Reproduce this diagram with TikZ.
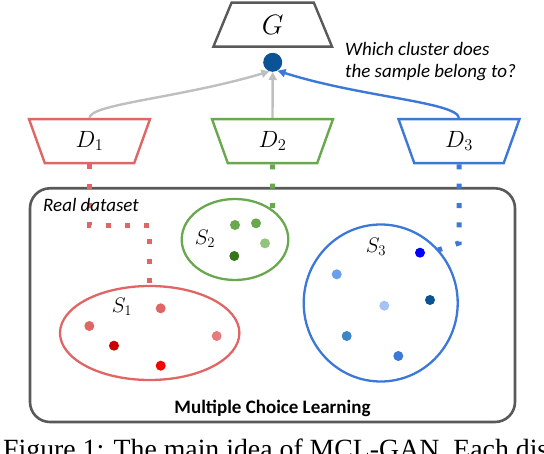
\RequirePackage{fix-cm}
\documentclass[tikz,border=0pt]{standalone}
\usepackage{fontspec}
\newfontfamily\calibri{Carlito}
\newfontfamily\timesf{Liberation Serif}
\usetikzlibrary{shapes.geometric,arrows.meta}
\definecolor{cred}{HTML}{E06666}
\definecolor{cgreen}{HTML}{6AA84F}
\definecolor{cblue}{HTML}{3C78D8}
\definecolor{cgray}{HTML}{BFBFBF}
\definecolor{cdark}{HTML}{595959}
\definecolor{cdot}{HTML}{0B5394}
\begin{document}
\begin{tikzpicture}[x=1pt,y=-1pt,
  gtrap/.style={trapezium, trapezium stretches=true, trapezium left angle=76, trapezium right angle=76,
    minimum width=119pt, minimum height=44pt, inner sep=0pt, draw=cdark, line width=2.4pt},
  dtrap/.style={trapezium, trapezium stretches=true, trapezium left angle=104, trapezium right angle=104,
    minimum width=121pt, minimum height=44pt, inner sep=0pt, line width=2.4pt},
  dotsq/.style={line width=5pt, dash pattern=on 5pt off 14.3pt},
  conn/.style={line width=2.4pt, -{Triangle[length=8pt,width=8pt]}},
  clus/.style={ellipse, inner sep=0pt, line width=2.3pt},
  pt/.style={circle, inner sep=0pt, minimum size=10pt},
  lab/.style={inner sep=0pt, font=\fontsize{21}{21}\selectfont},
  sans/.style={inner sep=0pt, font=\calibri\fontsize{19}{22}\selectfont}
]
\useasboundingbox (0,0) rectangle (544,454);
\clip (0,0) rectangle (544,454);

% generator and discriminators
\node[gtrap] (G) at (272.7,24.7) {\fontsize{28}{28}\selectfont$G$};
\node[circle, fill=cdot, inner sep=0pt, minimum size=19pt] (dot) at (272.7,62.3) {};
\node[dtrap, draw=cred] (D1) at (89.5,141.2) {\fontsize{23.5}{23.5}\selectfont$D_1$};
\node[dtrap, draw=cgreen] (D2) at (272.5,141.2) {\fontsize{23.5}{23.5}\selectfont$D_2$};
\node[dtrap, draw=cblue] (D3) at (459,141.2) {\fontsize{23.5}{23.5}\selectfont$D_3$};

% question text
\node[sans, anchor=base west] (q1) at (345,56) {\itshape Which cluster does};
\node[sans, anchor=base west] (q2) at (345,78) {\itshape the sample belong to?};

% dataset box
\draw[cdark, line width=2.6pt, rounded corners=20pt] (30,188.3) rectangle (515,422);

% clusters
\node[clus, draw=cred, minimum width=179.4pt, minimum height=94pt] (S1e) at (149.7,333) {};
\node[clus, draw=cgreen, minimum width=106.6pt, minimum height=81pt] (S2e) at (235,239.5) {};
\node[clus, draw=cblue, minimum width=154pt, minimum height=157pt] (S3e) at (380.7,303) {};

% dotted links
\coordinate (g2) at (272.5,210);
\coordinate (b3a) at (459,243);
\coordinate (b3) at (438,250);
\draw[dotsq, cred] (D1.south) -- ++(0,61) -| (S1e.north);
\draw[dotsq, cgreen] (D2.south) -- (g2);
\draw[dotsq, cblue] (D3.south) -- (b3a) -- (b3);

\node[sans, anchor=base west] (rd) at (43,211.5) {\itshape Real dataset};
\node[sans, anchor=base, font=\calibri\bfseries\fontsize{19}{22}\selectfont] (mcl) at (272.5,414) {Multiple Choice Learning};

% cluster labels
\node[lab] (S1l) at (122,307) {$S_1$};
\node[lab] (S2l) at (205,239) {$S_2$};
\node[lab] (S3l) at (376,247) {$S_3$};

% samples
\node[pt, fill=cred] (r1) at (89.3,326) {};
\node[pt, fill=cred] (r2) at (160.7,308.3) {};
\node[pt, fill={rgb,255:red,204;green,0;blue,0}] (r3) at (114,345.7) {};
\node[pt, fill={rgb,255:red,255;green,0;blue,0}] (r4) at (160.7,365.7) {};
\node[pt, fill={rgb,255:red,230;green,125;blue,125}] (r5) at (216.7,336) {};

\node[pt, fill=cgreen] (g1) at (235,225) {};
\node[pt, fill=cgreen] (g2p) at (256,223.3) {};
\node[pt, fill={rgb,255:red,147;green,196;blue,125}] (g3) at (265,243.3) {};
\node[pt, fill={rgb,255:red,56;green,118;blue,29}] (g4) at (234.3,256) {};

\node[pt, fill={rgb,255:red,0;green,0;blue,255}] (b1) at (420,252.7) {};
\node[pt, fill={rgb,255:red,109;green,158;blue,235}] (bb2) at (336.7,274.3) {};
\node[pt, fill=cdot] (bb3) at (430,300) {};
\node[pt, fill={rgb,255:red,164;green,194;blue,244}] (bb4) at (384.3,305.7) {};
\node[pt, fill={rgb,255:red,61;green,133;blue,198}] (bb5) at (346.7,336) {};
\node[pt, fill=cblue] (bb6) at (398.3,356) {};

% arrows to the generator output
\draw[conn, cgray] (D1.north) .. controls (89.5,104) and (180,98) .. (dot.250);
\draw[conn, cgray] (D2.north) -- (dot.south);
\draw[conn, cblue] (D3.north) .. controls (457,102) and (360,97) .. (dot.300);

% caption (cut off)
\node[anchor=base west, inner sep=0pt, font=\timesf\fontsize{27.8}{30}\selectfont] (cap) at (3,458) {Figure 1: The main idea of MCL-GAN. Each dis};
\end{tikzpicture}
\end{document}
